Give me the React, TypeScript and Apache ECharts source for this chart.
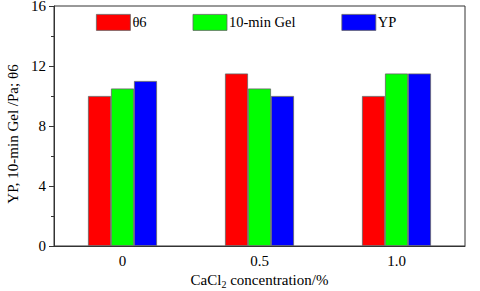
import React, { useEffect, useRef } from "react";
import * as echarts from "echarts";

const categories = ["0", "0.5", "1.0"];
const theta6 = [10, 11.5, 10];
const gel10 = [10.5, 10.5, 11.5];
const yp = [11, 10, 11.5];

const FONT = "Liberation Serif";

export default function App() {
  const ref = useRef<HTMLDivElement>(null);
  useEffect(() => {
    if (!ref.current) return;
    const chart = echarts.init(ref.current, null, { renderer: "svg" });
    const barStyle = (c: string) => ({ color: c, borderColor: "#666", borderWidth: 0.8 });
    chart.setOption({
      animation: false,
      textStyle: { fontFamily: FONT },
      grid: {
        left: 54,
        right: 15,
        top: 6,
        bottom: 45,
        show: true,
        borderColor: "#333",
        borderWidth: 1,
        outerBoundsMode: "none",
        containLabel: false,
      },
      legend: {
        left: 91,
        top: 9,
        itemWidth: 34,
        itemHeight: 16,
        itemGap: 46,
        icon: "rect",
        formatter: "{t|{name}}",
        itemStyle: { borderColor: "#666", borderWidth: 0.8 },
        textStyle: {
          fontFamily: FONT,
          fontSize: 14.5,
          color: "#000",
          padding: [0, 0, 0, -3],
          rich: { t: { fontFamily: FONT, fontSize: 14.5, color: "#000" } },
        },
        data: ["θ6", "10-min Gel", "YP"],
      },
      xAxis: [
        {
          type: "category",
          data: categories,
          axisLine: { lineStyle: { color: "#333" } },
          axisTick: { alignWithLabel: true, length: 4, lineStyle: { color: "#333" } },
          axisLabel: { fontFamily: FONT, fontSize: 15, color: "#000", margin: 7 },
          name: "{n|CaCl}{sub|2}{n| concentration/%}",
          nameLocation: "middle",
          nameGap: 24,
          nameTextStyle: {
            fontFamily: FONT,
            fontSize: 15,
            color: "#000",
            rich: {
              n: { fontFamily: FONT, fontSize: 15, color: "#000" },
              sub: { fontFamily: FONT, fontSize: 10, color: "#000", padding: [8, 0, 0, 0] },
            },
          },
        },
        {
          type: "category",
          data: categories,
          position: "bottom",
          axisLine: { show: false },
          axisTick: { length: 4, lineStyle: { color: "#333" } },
          axisLabel: { show: false },
        },
      ],
      yAxis: {
        type: "value",
        min: 0,
        max: 16,
        interval: 4,
        axisLine: { show: true, lineStyle: { color: "#333" } },
        axisTick: { show: true, length: 5, lineStyle: { color: "#333" } },
        minorTick: { show: true, splitNumber: 2, length: 3, lineStyle: { color: "#333" } },
        splitLine: { show: false },
        axisLabel: { fontFamily: FONT, fontSize: 15, color: "#000", margin: 8 },
        name: "YP, 10-min Gel /Pa; θ6",
        nameLocation: "middle",
        nameGap: 33,
        nameTextStyle: { fontFamily: FONT, fontSize: 15, color: "#000", padding: [0, 16, 0, 0] },
      },
      series: [
        { name: "θ6", type: "bar", data: theta6, barWidth: 23, barGap: "0%", itemStyle: barStyle("#ff0000") },
        { name: "10-min Gel", type: "bar", data: gel10, barWidth: 23, barGap: "0%", itemStyle: barStyle("#00ff00") },
        { name: "YP", type: "bar", data: yp, barWidth: 23, barGap: "0%", itemStyle: barStyle("#0000ff") },
      ],
    });
    return () => chart.dispose();
  }, []);
  return <div ref={ref} style={{ width: 480, height: 291, position: "absolute", left: 0, top: 0 }} />;
}
